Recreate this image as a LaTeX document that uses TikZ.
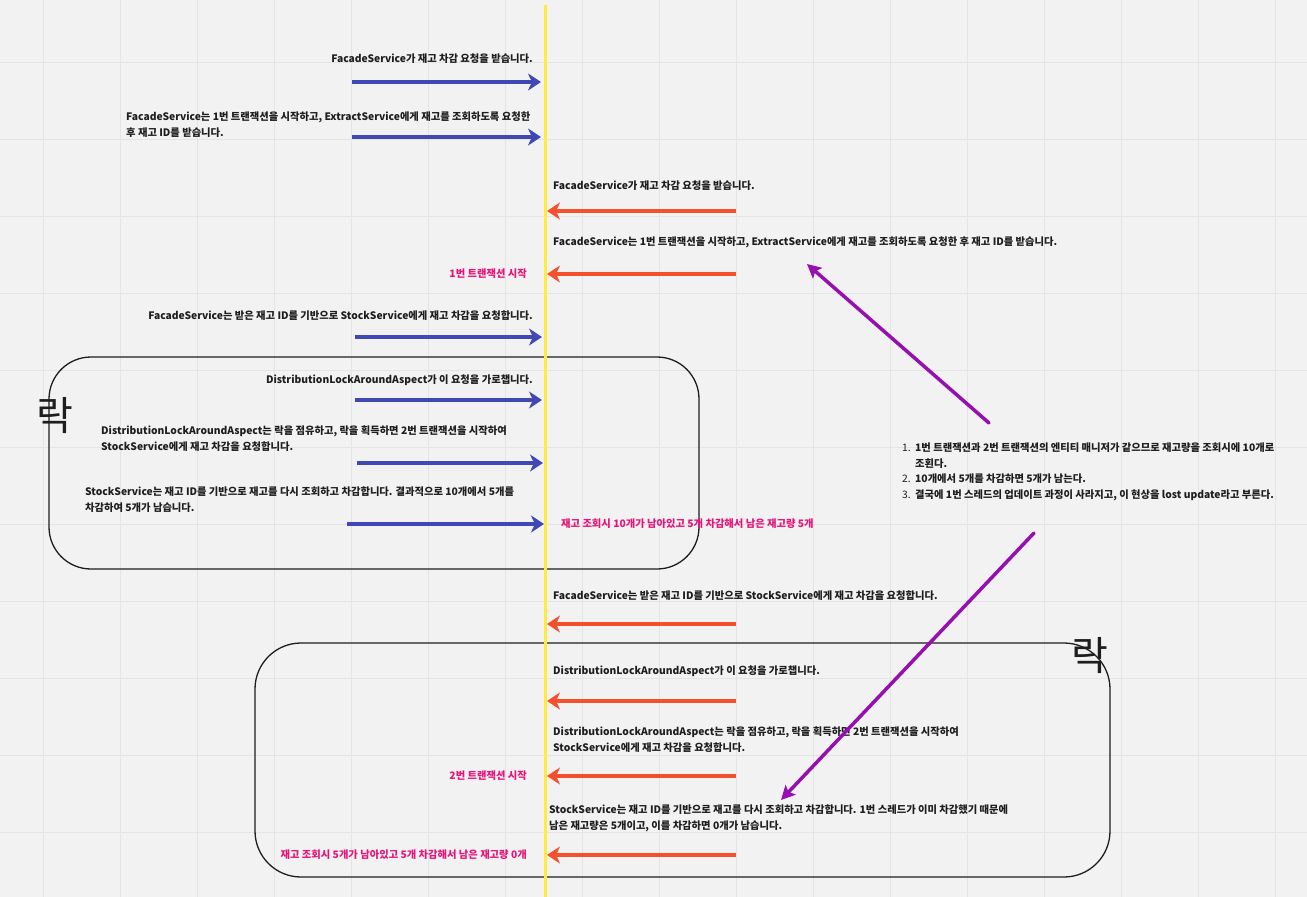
\documentclass[tikz,border=0pt]{standalone}
\usepackage{fontspec}
\setmainfont{Noto Sans CJK KR}
\usetikzlibrary{arrows.meta}
\definecolor{bgc}{RGB}{242,242,242}
\definecolor{gridc}{RGB}{228,228,228}
\definecolor{lifeline}{RGB}{255,236,60}
\definecolor{reqblue}{RGB}{63,72,181}
\definecolor{resred}{RGB}{244,80,44}
\definecolor{notepink}{RGB}{230,20,120}
\definecolor{linkpurple}{RGB}{150,15,175}
\definecolor{ink}{RGB}{30,30,30}
\tikzset{
  x=1pt, y=-1pt,
  msg/.style={inner sep=0pt, font=\fontsize{10.3}{16}\selectfont\bfseries, text=ink, align=left},
  note/.style={inner sep=0pt, font=\fontsize{10.3}{16}\selectfont\bfseries, text=notepink},
  reqarrow/.style={draw=reqblue, line width=4pt, -{Stealth[length=13pt,width=17pt,inset=4pt]}},
  resarrow/.style={draw=resred, line width=4pt, -{Stealth[length=13pt,width=17pt,inset=4pt]}},
  linkarrow/.style={draw=linkpurple, line width=3.5pt, line cap=round, -{Stealth[length=14pt,width=14pt,inset=3pt]}},
  lockbox/.style={draw=ink, line width=1.3pt, rounded corners=42pt},
  locklabel/.style={inner sep=0pt, font=\fontsize{40}{40}\selectfont, text=ink},
}
\begin{document}
\begin{tikzpicture}
\useasboundingbox (0,0) rectangle (1307,897);
\fill[bgc] (0,0) rectangle (1307,897);
% background grid
\foreach \i in {0,...,16} \draw[gridc, line width=1.5pt] ({43.7+77*\i},0) -- ({43.7+77*\i},897);
\foreach \j in {0,...,10} \draw[gridc, line width=1.5pt] (0,{62.7+77*\j}) -- (1307,{62.7+77*\j});

% lock regions
\draw[lockbox] (49,357) rectangle (699,569);
\draw[lockbox, rounded corners=46pt] (255,643) rectangle (1110,877);
\node[locklabel] (lockA) at (55,416) {락};
\node[locklabel] (lockB) at (1090,656) {락};

% lifeline
\coordinate (lifetop) at (545,5);
\coordinate (lifebot) at (545,897);
\draw[lifeline, line width=3pt] (lifetop) -- (lifebot);

% thread 1 (blue, left to right)
\node[msg, anchor=east] (t1) at (533,59) {FacadeService가 재고 차감 요청을 받습니다.};
\node[msg, anchor=west] (t2) at (126,125) {FacadeService는 1번 트랜잭션을 시작하고, ExtractService에게 재고를 조회하도록 요청한\\후 재고 ID를 받습니다.};
\node[msg, anchor=east] (t3) at (533,316) {FacadeService는 받은 재고 ID를 기반으로 StockService에게 재고 차감을 요청합니다.};
\node[msg, anchor=east] (t4) at (533,380) {DistributionLockAroundAspect가 이 요청을 가로챕니다.};
\node[msg, anchor=west] (t5) at (101,439) {DistributionLockAroundAspect는 락을 점유하고, 락을 획득하면 2번 트랜잭션을 시작하여\\StockService에게 재고 차감을 요청합니다.};
\node[msg, anchor=west] (t6) at (85,500) {StockService는 재고 ID를 기반으로 재고를 다시 조회하고 차감합니다. 결과적으로 10개에서 5개를\\차감하여 5개가 남습니다.};

\coordinate (a1s) at (352,82);  \coordinate (a1e) at (541,82);
\coordinate (a2s) at (352,137); \coordinate (a2e) at (541,137);
\coordinate (a3s) at (355,337); \coordinate (a3e) at (542,337);
\coordinate (a4s) at (355,400); \coordinate (a4e) at (542,400);
\coordinate (a5s) at (357,463); \coordinate (a5e) at (543,463);
\coordinate (a6s) at (347,524); \coordinate (a6e) at (544,524);
\foreach \k in {1,...,6} \draw[reqarrow] (a\k s) -- (a\k e);

\node[note, anchor=west] (n2) at (561,524) {재고 조회시 10개가 남아있고 5개 차감해서 남은 재고량 5개};

% thread 2 (red, right to left)
\node[msg, anchor=west] (r1) at (553,186) {FacadeService가 재고 차감 요청을 받습니다.};
\node[msg, anchor=west] (r2) at (553,242) {FacadeService는 1번 트랜잭션을 시작하고, ExtractService에게 재고를 조회하도록 요청한 후 재고 ID를 받습니다.};
\node[msg, anchor=west] (r3) at (553,596) {FacadeService는 받은 재고 ID를 기반으로 StockService에게 재고 차감을 요청합니다.};
\node[msg, anchor=west] (r4) at (553,671) {DistributionLockAroundAspect가 이 요청을 가로챕니다.};
\node[msg, anchor=west] (r5) at (553,740) {DistributionLockAroundAspect는 락을 점유하고, 락을 획득하면 2번 트랜잭션을 시작하여\\StockService에게 재고 차감을 요청합니다.};
\node[msg, anchor=west] (r6) at (549,818) {StockService는 재고 ID를 기반으로 재고를 다시 조회하고 차감합니다. 1번 스레드가 이미 차감했기 때문에\\남은 재고량은 5개이고, 이를 차감하면 0개가 남습니다.};

\coordinate (b1s) at (736,211); \coordinate (b1e) at (547,211);
\coordinate (b2s) at (736,274); \coordinate (b2e) at (547,274);
\coordinate (b3s) at (736,624); \coordinate (b3e) at (547,624);
\coordinate (b4s) at (736,701); \coordinate (b4e) at (547,701);
\coordinate (b5s) at (736,776); \coordinate (b5e) at (547,776);
\coordinate (b6s) at (736,855); \coordinate (b6e) at (547,855);
\foreach \k in {1,...,6} \draw[resarrow] (b\k s) -- (b\k e);

\node[note, anchor=east] (n1) at (527,274) {1번 트랜잭션 시작};
\node[note, anchor=east] (n3) at (527,776) {2번 트랜잭션 시작};
\node[note, anchor=east] (n4) at (527,855) {재고 조회시 5개가 남아있고 5개 차감해서 남은 재고량 0개};

% explanation of the lost update
\node[msg, anchor=west, font=\fontsize{10.3}{15.6}\selectfont] (expl) at (902,472) {%
\makebox[13pt][l]{1.}\textbf{1번 트랜잭션과 2번 트랜잭션의 엔티티 매니저가 같으므로 재고량을 조회시에 10개로}\\
\makebox[13pt][l]{}\textbf{조횐다.}\\
\makebox[13pt][l]{2.}\textbf{10개에서 5개를 차감하면 5개가 남는다.}\\
\makebox[13pt][l]{3.}\textbf{결국에 1번 스레드의 업데이트 과정이 사라지고, 이 현상을 lost update라고 부른다.}};

\coordinate (p1s) at (989,423); \coordinate (p1e) at (807,264);
\coordinate (p2s) at (1034,533); \coordinate (p2e) at (781,800);
\draw[linkarrow] (p1s) -- (p1e);
\draw[linkarrow] (p2s) -- (p2e);
\end{tikzpicture}
\end{document}
